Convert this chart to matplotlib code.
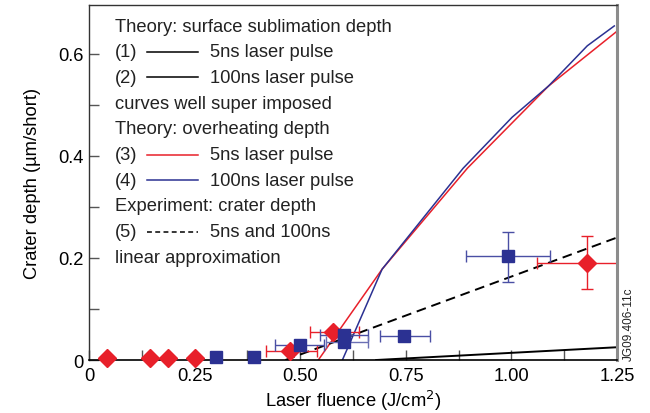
import matplotlib
matplotlib.use("Agg")
import matplotlib.pyplot as plt
from matplotlib.ticker import FixedLocator
from matplotlib.lines import Line2D

plt.rcParams['font.family'] = ['Liberation Sans', 'DejaVu Sans']

RED = '#e8202a'
BLUE = '#2b3192'
BLUE_LIGHT = '#6b70b4'

# Theory curves
sub_x = [0.68, 1.25]
sub_y = [0.0, 0.025]
over5_x = [0.543, 0.694, 0.896, 1.088, 1.251]
over5_y = [0.0, 0.178, 0.376, 0.537, 0.645]
over100_x = [0.60, 0.694, 0.886, 1.002, 1.088, 1.18, 1.244]
over100_y = [0.0, 0.178, 0.376, 0.476, 0.537, 0.616, 0.655]
lin_x = [0.465, 1.25]
lin_y = [0.0, 0.24]

# Experiment 5 ns (red diamonds)
r_x = [0.043, 0.145, 0.187, 0.25, 0.476, 0.578, 1.18]
r_y = [0.004, 0.004, 0.004, 0.004, 0.018, 0.055, 0.19]
r_xlo = [0, 0, 0, 0, 0.056, 0.054, 0.12]
r_xhi = [0, 0, 0, 0, 0.064, 0.062, 0.07]
r_ylo = [0, 0, 0, 0, 0, 0, 0.051]
r_yhi = [0, 0, 0, 0, 0, 0, 0.053]

# Experiment 100 ns (blue squares)
b_x = [0.30, 0.39, 0.50, 0.603, 0.603, 0.746, 0.993]
b_y = [0.006, 0.006, 0.030, 0.049, 0.035, 0.047, 0.204]
b_xlo = [0, 0, 0.06, 0.056, 0.043, 0.056, 0.10]
b_xhi = [0, 0, 0.057, 0.058, 0.058, 0.062, 0.099]
b_ylo = [0, 0, 0, 0, 0, 0, 0.051]
b_yhi = [0, 0, 0, 0, 0, 0, 0.046]

legend_lines = [
    ("Theory: surface sublimation depth", None),
    ("(1)", ('k', '-', "5ns laser pulse")),
    ("(2)", ('k', '-', "100ns laser pulse")),
    ("curves well super imposed", None),
    ("Theory: overheating depth", None),
    ("(3)", (RED, '-', "5ns laser pulse")),
    ("(4)", (BLUE, '-', "100ns laser pulse")),
    ("Experiment: crater depth", None),
    ("(5)", ('k', '--', "5ns and 100ns")),
    ("linear approximation", None),
]

FS = 13.2

fig = plt.figure(figsize=(6.5, 4.14), dpi=100)
ax = fig.add_axes([0.137, 0.128, 0.812, 0.8575])

ax.plot(sub_x, sub_y, color='k', lw=1.4)
ax.plot(over5_x, over5_y, color=RED, lw=1.1)
ax.plot(over100_x, over100_y, color=BLUE, lw=1.1)
ax.plot(lin_x, lin_y, color='k', lw=1.4, ls=(0, (5, 3)))

# error bars
for i in range(len(r_x)):
    if r_xlo[i] or r_ylo[i]:
        ax.errorbar([r_x[i]], [r_y[i]],
                    xerr=[[r_xlo[i]], [r_xhi[i]]] if r_xlo[i] else None,
                    yerr=[[r_ylo[i]], [r_yhi[i]]] if r_ylo[i] else None,
                    fmt='none', ecolor=RED, elinewidth=1.0, capsize=4, capthick=1.0,
                    clip_on=False)
for i in range(len(b_x)):
    if b_xlo[i] or b_ylo[i]:
        c = BLUE_LIGHT if i == 4 else '#4a4fa4'
        ax.errorbar([b_x[i]], [b_y[i]],
                    xerr=[[b_xlo[i]], [b_xhi[i]]] if b_xlo[i] else None,
                    yerr=[[b_ylo[i]], [b_yhi[i]]] if b_ylo[i] else None,
                    fmt='none', ecolor=c, elinewidth=1.0, capsize=4, capthick=1.0,
                    clip_on=False)

ax.plot(r_x, r_y, 'D', color=RED, ms=9.5, mec=RED, ls='none', clip_on=False, zorder=5)
ax.plot(b_x, b_y, 's', color=BLUE, ms=9, mec=BLUE, ls='none', clip_on=False, zorder=5)

ax.set_xlim(0, 1.25)
ax.set_ylim(0, 0.696)

ax.xaxis.set_major_locator(FixedLocator([0, 0.25, 0.5, 0.75, 1.0, 1.25]))
ax.set_xticklabels(["0", "0.25", "0.50", "0.75", "1.00", "1.25"])
ax.xaxis.set_minor_locator(FixedLocator([0.125, 0.375, 0.625, 0.875, 1.125]))
ax.yaxis.set_major_locator(FixedLocator([0, 0.2, 0.4, 0.6]))
ax.set_yticklabels(["0", "0.2", "0.4", "0.6"])
ax.yaxis.set_minor_locator(FixedLocator([0.1, 0.3, 0.5]))

ax.tick_params(which='both', direction='in', labelsize=FS, color='#555555', width=1.0)
ax.tick_params(which='major', length=7)
ax.tick_params(which='minor', length=7)
ax.tick_params(axis='x', pad=5)
ax.tick_params(axis='y', pad=4)

for s in ['left', 'top']:
    ax.spines[s].set_color('#333333')
    ax.spines[s].set_linewidth(1.0)
ax.spines['bottom'].set_color('black')
ax.spines['bottom'].set_linewidth(1.2)
ax.spines['right'].set_color('#8c8c8c')
ax.spines['right'].set_linewidth(2.2)

ax.set_xlabel("Laser fluence (J/cm$^2$)", fontsize=FS, labelpad=3)
ax.set_ylabel("Crater depth (µm/short)", fontsize=FS, labelpad=12)

# annotation legend in figure pixel coordinates
y0 = 27
dy = 25.7
x_text = 115
for k, (txt, seg) in enumerate(legend_lines):
    yp = 414 - (y0 + k * dy)
    fig.text(x_text / 650, yp / 414, txt, fontsize=FS, va='center', ha='left', color='#222222')
    if seg is not None:
        col, ls, lab = seg
        fig.add_artist(Line2D([147 / 650, 198 / 650], [yp / 414, yp / 414],
                              color=col, lw=1.1, ls=(0, (3.2, 2.2)) if ls == '--' else '-'))
        fig.text(210 / 650, yp / 414, lab, fontsize=FS, va='center', ha='left', color='#222222')

fig.text(629 / 650, 1 - 324 / 414, "JG09.406-11c", rotation=90, fontsize=8.5,
         va='center', ha='center', color='#222222')

fig.savefig("out.png", dpi=100)
